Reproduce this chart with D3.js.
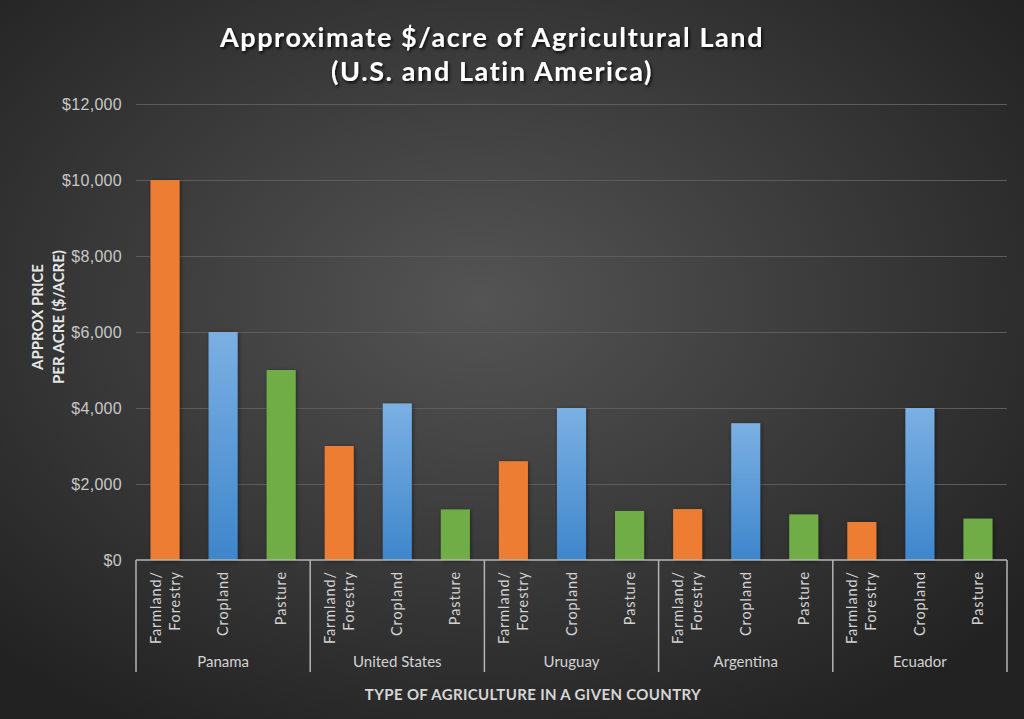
<!DOCTYPE html>
<html>
<head>
<meta charset="utf-8">
<script src="https://cdn.jsdelivr.net/npm/d3@7"></script>
<style>
  html, body { margin: 0; padding: 0; background: #2a2a2a; }
  svg { display: block; font-family: Lato, "Open Sans", sans-serif; }
</style>
</head>
<body>
<script>
const countries = ["Panama", "United States", "Uruguay", "Argentina", "Ecuador"];
const types = ["Farmland/ Forestry", "Cropland", "Pasture"];
const farmland = [10000, 3000, 2600, 1340, 1000];
const cropland = [6000, 4120, 4000, 3600, 4000];
const pasture = [5000, 1330, 1290, 1200, 1090];
const yTicks = [0, 2000, 4000, 6000, 8000, 10000, 12000];

const w = 1024;
const h = 719;
const m = { left: 136, right: 1007, top: 104, bottom: 560 };

const rows = countries.map((c, i) => ({
    country: c,
    values: [farmland[i], cropland[i], pasture[i]]
}));

const svg = d3.select("body").append("svg")
    .attr("width", w)
    .attr("height", h);

const defs = svg.append("defs");

const bg = defs.append("radialGradient")
    .attr("id", "bg")
    .attr("cx", "47%").attr("cy", "42%").attr("r", "68%");
bg.append("stop").attr("offset", "0%").attr("stop-color", "#545454");
bg.append("stop").attr("offset", "100%").attr("stop-color", "#222222");

const blue = defs.append("linearGradient")
    .attr("id", "blue")
    .attr("x1", 0).attr("y1", 0).attr("x2", 0).attr("y2", 1);
blue.append("stop").attr("offset", "0%").attr("stop-color", "#7bb0e3");
blue.append("stop").attr("offset", "100%").attr("stop-color", "#3e86cb");

const shadow = defs.append("filter")
    .attr("id", "shadow")
    .attr("x", "-30%").attr("y", "-10%").attr("width", "160%").attr("height", "120%");
shadow.append("feDropShadow")
    .attr("dx", 1).attr("dy", 1).attr("stdDeviation", 2)
    .attr("flood-color", "#000").attr("flood-opacity", 0.45);

const titleShadow = defs.append("filter").attr("id", "tshadow");
titleShadow.append("feDropShadow")
    .attr("dx", 1.5).attr("dy", 2).attr("stdDeviation", 1.5)
    .attr("flood-color", "#000").attr("flood-opacity", 0.8);

svg.append("rect")
    .attr("width", w).attr("height", h)
    .attr("fill", "url(#bg)");

const x0 = d3.scaleBand()
    .domain(countries)
    .range([m.left, m.right]);

const x1 = d3.scaleBand()
    .domain(types)
    .range([0, x0.bandwidth()])
    .paddingInner(0.5)
    .paddingOuter(0.25);

const y = d3.scaleLinear()
    .domain([0, 12000])
    .range([m.bottom, m.top]);

const colors = ["#ED7D31", "url(#blue)", "#70AD47"];

// gridlines + y labels
const yAxis = d3.axisLeft(y)
    .tickValues(yTicks)
    .tickSize(-(m.right - m.left))
    .tickPadding(14)
    .tickFormat((d) => "$" + d3.format(",")(d));

const gy = svg.append("g")
    .attr("transform", `translate(${m.left}, 0)`)
    .call(yAxis);
gy.select(".domain").remove();
gy.selectAll(".tick line")
    .attr("stroke", "#5c5c5c")
    .attr("stroke-width", 1)
    .filter((d) => d === 0).remove();
gy.selectAll(".tick text")
    .attr("fill", "#c8c8c8")
    .attr("font-size", 16)
    .attr("letter-spacing", 0.3);

// bars
const groups = svg.selectAll(".country")
    .data(rows)
    .enter()
    .append("g")
    .attr("class", "country")
    .attr("transform", (d) => `translate(${x0(d.country)}, 0)`);

groups.selectAll("rect")
    .data((d) => d.values.map((v, i) => ({ type: types[i], value: v, i })))
    .enter()
    .append("rect")
    .attr("x", (d) => x1(d.type))
    .attr("y", (d) => y(d.value))
    .attr("width", x1.bandwidth())
    .attr("height", (d) => y(0) - y(d.value))
    .attr("fill", (d) => colors[d.i])
    .attr("filter", "url(#shadow)");

// x axis line and group separators
const axisColor = "#b4b4b4";
svg.append("line")
    .attr("x1", m.left).attr("x2", m.right)
    .attr("y1", y(0)).attr("y2", y(0))
    .attr("stroke", axisColor).attr("stroke-width", 1.5);

const seps = countries.map((c) => x0(c)).concat([m.right]);
svg.selectAll(".sep")
    .data(seps)
    .enter()
    .append("line")
    .attr("class", "sep")
    .attr("x1", (d) => d).attr("x2", (d) => d)
    .attr("y1", y(0)).attr("y2", 672)
    .attr("stroke", axisColor).attr("stroke-width", 1.5);

// rotated category labels
groups.selectAll(".cat")
    .data(types)
    .enter()
    .append("text")
    .attr("class", "cat")
    .attr("transform", (d) => `translate(${x1(d) + x1.bandwidth() / 2}, ${y(0) + 11}) rotate(-90)`)
    .attr("text-anchor", "end")
    .attr("fill", "#d2d2d2")
    .attr("font-size", 14.5)
    .attr("letter-spacing", 0.9)
    .each(function (d) {
        const parts = d.split(" ");
        const t = d3.select(this);
        if (parts.length === 1) {
            t.append("tspan").attr("x", 0).attr("dy", "0.35em").text(d);
        } else {
            t.append("tspan").attr("x", 0).attr("dy", "-0.3em").text(parts[0]);
            t.append("tspan").attr("x", 0).attr("dy", "1.3em").text(parts[1]);
        }
    });

// country labels
groups.append("text")
    .attr("x", x0.bandwidth() / 2)
    .attr("y", 667)
    .attr("text-anchor", "middle")
    .attr("fill", "#d2d2d2")
    .attr("font-size", 15)
    .text((d) => d.country);

// axis titles
svg.append("text")
    .attr("x", 533)
    .attr("y", 700)
    .attr("text-anchor", "middle")
    .attr("fill", "#d6d6d6")
    .attr("font-size", 15)
    .attr("font-weight", "bold")
    .attr("letter-spacing", 0.35)
    .text("TYPE OF AGRICULTURE IN A GIVEN COUNTRY");

const yTitle = svg.append("text")
    .attr("transform", "translate(43, 317) rotate(-90)")
    .attr("text-anchor", "middle")
    .attr("fill", "#e6e6e6")
    .attr("font-size", 15)
    .attr("font-weight", "bold");
yTitle.append("tspan").attr("x", 0).attr("dy", 0).text("APPROX PRICE");
yTitle.append("tspan").attr("x", 0).attr("dy", "1.4em").text("PER ACRE ($/ACRE)");

// chart title
const title = svg.append("text")
    .attr("x", 492)
    .attr("y", 47)
    .attr("text-anchor", "middle")
    .attr("fill", "#ffffff")
    .attr("font-size", 27)
    .attr("font-weight", "bold")
    .attr("letter-spacing", 1.6)
    .attr("filter", "url(#tshadow)");
title.append("tspan").attr("x", 492).text("Approximate $/acre of Agricultural Land");
title.append("tspan").attr("x", 492).attr("dy", 34).text("(U.S. and Latin America)");
</script>
</body>
</html>
